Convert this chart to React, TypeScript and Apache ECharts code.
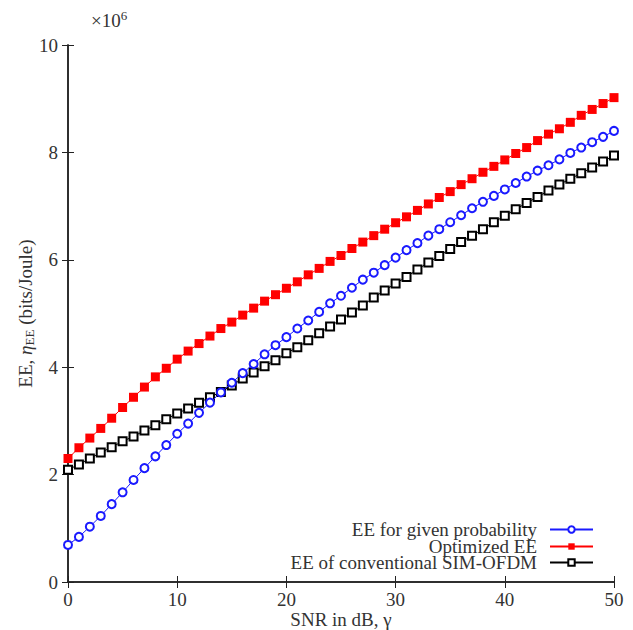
import React, { useEffect, useRef } from "react";
import * as echarts from "echarts";

const snr: number[] = Array.from({ length: 51 }, (_, i) => i);

const eeGiven: number[] = [
  0.69, 0.84, 1.03, 1.23, 1.45, 1.67, 1.9, 2.12, 2.34, 2.55,
  2.76, 2.95, 3.15, 3.34, 3.53, 3.71, 3.89, 4.06, 4.24, 4.41,
  4.56, 4.72, 4.87, 5.03, 5.19, 5.33, 5.48, 5.63, 5.76, 5.9,
  6.04, 6.18, 6.31, 6.45, 6.57, 6.7, 6.83, 6.96, 7.08, 7.19,
  7.31, 7.43, 7.55, 7.66, 7.76, 7.87, 7.99, 8.09, 8.19, 8.29,
  8.4,
];

const eeOptimized: number[] = [
  2.3, 2.5, 2.68, 2.86, 3.05, 3.25, 3.44, 3.63, 3.82, 3.98,
  4.15, 4.3, 4.44, 4.58, 4.72, 4.84, 4.97, 5.1, 5.23, 5.35,
  5.47, 5.59, 5.72, 5.84, 5.97, 6.08, 6.21, 6.33, 6.45, 6.57,
  6.69, 6.8, 6.92, 7.04, 7.16, 7.27, 7.4, 7.51, 7.63, 7.74,
  7.86, 7.98, 8.09, 8.22, 8.34, 8.44, 8.56, 8.69, 8.8, 8.91,
  9.02,
];

const eeConventional: number[] = [
  2.09, 2.19, 2.3, 2.41, 2.51, 2.62, 2.71, 2.82, 2.92, 3.03,
  3.14, 3.23, 3.34, 3.44, 3.54, 3.66, 3.79, 3.9, 4.02, 4.13,
  4.26, 4.37, 4.5, 4.63, 4.76, 4.89, 5.02, 5.15, 5.3, 5.43,
  5.56, 5.68, 5.82, 5.95, 6.07, 6.2, 6.33, 6.45, 6.57, 6.7,
  6.82, 6.94, 7.06, 7.17, 7.29, 7.4, 7.51, 7.61, 7.72, 7.83,
  7.94,
];

const seriesNames = [
  "EE for given probability",
  "Optimized EE",
  "EE of conventional SIM-OFDM",
];

const FONT = "Liberation Serif";
const FS = 19;
const TXT = "#333";
const BLUE = "#1a1aff";
const RED = "#ff0000";
const BLACK = "#000000";

export default function App() {
  const ref = useRef<HTMLDivElement>(null);
  useEffect(() => {
    if (!ref.current) return;
    const chart = echarts.init(ref.current, undefined, { renderer: "svg" });
    const pair = (ys: number[]) => snr.map((x, i) => [x, ys[i]]);
    const tickCommon = {
      axisTick: { show: true, inside: true, length: 6, lineStyle: { color: "#222", width: 1 } },
      splitLine: { show: false },
      axisLine: { show: true, lineStyle: { color: "#222", width: 1.5 } },
    };
    const legendRowCenters = [528, 545, 561];
    const LH = 16;
    const legends = seriesNames.map((nm, k) => ({
      orient: "vertical",
      right: 39,
      top: legendRowCenters[k] - LH / 2,
      padding: 0,
      align: "right",
      itemWidth: 43,
      itemHeight: 8,
      data: [nm],
      textStyle: { fontFamily: FONT, fontSize: FS, color: TXT, lineHeight: LH, padding: [0, 8, 0, 0] },
    }));
    chart.setOption({
      animation: false,
      backgroundColor: "#fff",
      textStyle: { fontFamily: FONT },
      grid: { left: 68, right: 19, top: 45, bottom: 48, show: false, outerBoundsMode: "none", containLabel: false },
      graphic: [
        {
          type: "text",
          left: 91,
          top: 9,
          style: {
            text: "{a|×10}{s|6}",
            rich: {
              a: { fontFamily: FONT, fontSize: FS, fill: TXT, verticalAlign: "bottom" },
              s: { fontFamily: FONT, fontSize: 13, fill: TXT, verticalAlign: "top", padding: [0, 0, 8, 0] },
            },
          },
        },
      ],
      xAxis: [
        {
          type: "value",
          min: 0,
          max: 50,
          interval: 10,
          position: "bottom",
          ...tickCommon,
          axisLabel: { fontFamily: FONT, fontSize: FS, color: TXT, margin: 8 },
          name: "SNR in dB, γ",
          nameLocation: "middle",
          nameGap: 27,
          nameMoveOverlap: false,
          nameTextStyle: { fontFamily: FONT, fontSize: FS, color: TXT, lineHeight: 20 },
        },
        {
          type: "value",
          min: 0,
          max: 50,
          interval: 10,
          position: "top",
          ...tickCommon,
          axisLabel: { show: false },
        },
      ],
      yAxis: [
        {
          type: "value",
          min: 0,
          max: 10,
          interval: 2,
          position: "left",
          ...tickCommon,
          axisLabel: { fontFamily: FONT, fontSize: FS, color: TXT, margin: 10 },
          name: "{a|EE, }{i|η}{s|EE}{a| (bits/Joule)}",
          nameLocation: "middle",
          nameGap: 32,
          nameMoveOverlap: false,
          nameTextStyle: {
            rich: {
              a: { fontFamily: FONT, fontSize: FS, color: TXT },
              i: { fontFamily: FONT, fontSize: FS, color: TXT, fontStyle: "italic" },
              s: { fontFamily: FONT, fontSize: 13, color: TXT, padding: [8, 0, 0, 0] },
            },
          },
        },
        {
          type: "value",
          min: 0,
          max: 10,
          interval: 2,
          position: "right",
          ...tickCommon,
          axisLabel: { show: false },
        },
      ],
      legend: legends,
      series: [
        {
          name: seriesNames[0],
          type: "line",
          data: pair(eeGiven),
          symbol: "emptyCircle",
          symbolSize: 8,
          showAllSymbol: true,
          lineStyle: { color: BLUE, width: 1 },
          itemStyle: { color: BLUE, borderColor: BLUE, borderWidth: 1 },
          z: 3,
        },
        {
          name: seriesNames[1],
          type: "line",
          data: pair(eeOptimized),
          symbol: "rect",
          symbolSize: 9,
          showAllSymbol: true,
          lineStyle: { color: RED, width: 1 },
          itemStyle: { color: RED },
          z: 2,
        },
        {
          name: seriesNames[2],
          type: "line",
          data: pair(eeConventional),
          symbol: "emptyRect",
          symbolSize: 8,
          showAllSymbol: true,
          lineStyle: { color: BLACK, width: 1 },
          itemStyle: { color: BLACK, borderColor: BLACK, borderWidth: 1 },
          z: 2,
        },
      ],
    });
    return () => chart.dispose();
  }, []);
  return <div ref={ref} style={{ width: 633, height: 630, position: "absolute", left: 0, top: 0 }} />;
}
